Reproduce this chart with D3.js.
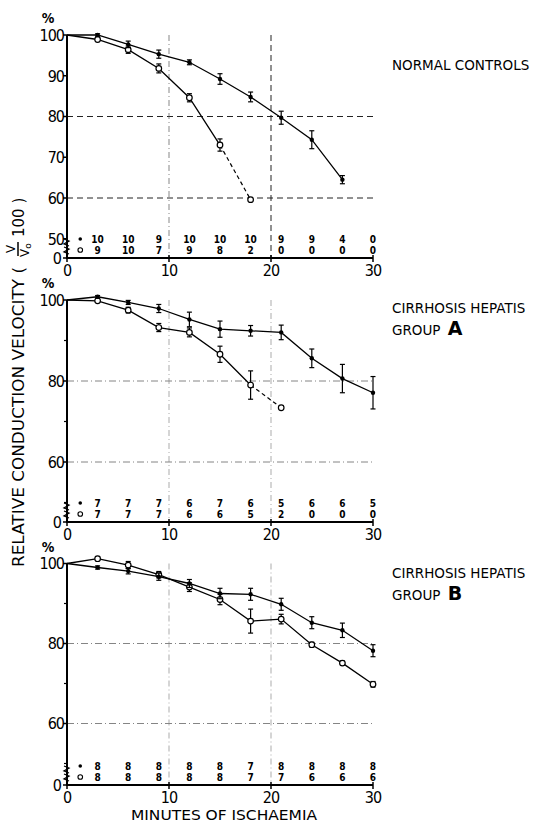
<!DOCTYPE html>
<html><head><meta charset="utf-8">
<script src="https://cdn.jsdelivr.net/npm/d3@7"></script>
<style>
body{margin:0;background:#fff;}
svg{display:block;font-family:"DejaVu Sans Condensed","DejaVu Sans",sans-serif;}
</style></head>
<body><svg id="c" width="544" height="824"></svg>
<script>
// ---------- data ----------
const minutes = [0,3,6,9,12,15,18,21,24,27,30];
const countMinutes = [3,6,9,12,15,18,21,24,27,30];
const xTicks = [0,10,20,30];
const xTickLabels = ["0","10","20","30"];

const normalFilled    = [100,100,97.7,95.3,93.3,89.2,84.8,79.7,74.3,64.5];
const normalFilledErr = [0,0.3,0.8,1.0,0.6,1.3,1.2,1.6,2.2,1.0];
const normalOpen      = [100,98.9,96.4,91.8,84.6,73.0,59.6];
const normalOpenErr   = [0,0.5,0.9,1.1,1.0,1.5,0];
const normalNFilled   = [10,10,9,10,10,10,9,9,4,0];
const normalNOpen     = [9,10,7,9,8,2,0,0,0,0];

const groupAFilled    = [100,100.8,99.4,97.9,95.2,92.8,92.4,92.0,85.6,80.6,77.1];
const groupAFilledErr = [0,0.3,0.5,1.0,1.8,2.0,1.3,1.8,2.3,3.5,4.0];
const groupAOpen      = [100,99.8,97.5,93.2,92.0,86.6,79.0,73.4];
const groupAOpenErr   = [0,0.4,0.7,1.0,1.1,2.0,3.5,0];
const groupANFilled   = [7,7,7,6,7,6,5,6,6,5];
const groupANOpen     = [7,7,7,6,6,5,2,0,0,0];

const groupBFilled    = [100,99.0,98.1,96.7,95.0,92.5,92.3,89.8,85.2,83.3,78.2];
const groupBFilledErr = [0,0.4,0.7,0.9,1.0,1.3,1.5,1.5,1.5,1.8,1.5];
const groupBOpen      = [100,101.2,99.6,97.2,94.1,91.0,85.6,86.1,79.7,75.1,69.8];
const groupBOpenErr   = [0,0.5,0.9,0.8,1.1,1.3,3.0,1.2,0.6,0.5,0.7];
const groupBNFilled   = [8,8,8,8,8,7,8,8,8,8];
const groupBNOpen     = [8,8,8,8,8,7,7,6,6,6];

const panels = [
  {filled:normalFilled, filledErr:normalFilledErr, open:normalOpen, openErr:normalOpenErr,
   nF:normalNFilled, nO:normalNOpen, openDashFrom:5,
   yLabels:[100,90,80,70,60,50], minor:[], title:["NORMAL CONTROLS"], letter:null,
   y100:35, y60:198, axisY:258, gridStyle:"dash"},
  {filled:groupAFilled, filledErr:groupAFilledErr, open:groupAOpen, openErr:groupAOpenErr,
   nF:groupANFilled, nO:groupANOpen, openDashFrom:6,
   yLabels:[100,80,60], minor:[90,70,50], title:["CIRRHOSIS HEPATIS","GROUP"], letter:"A",
   y100:300, y60:462, axisY:522, gridStyle:"dashdot"},
  {filled:groupBFilled, filledErr:groupBFilledErr, open:groupBOpen, openErr:groupBOpenErr,
   nF:groupBNFilled, nO:groupBNOpen, openDashFrom:null,
   yLabels:[100,80,60], minor:[90,70,50], title:["CIRRHOSIS HEPATIS","GROUP"], letter:"B",
   y100:563.5, y60:723.5, axisY:785, gridStyle:"dashdot"}
];

// ---------- drawing ----------
const svg = d3.select("#c");
const x = d3.scaleLinear().domain([0,30]).range([67,373]);

panels.forEach((p, pi) => {
  const y = d3.scaleLinear().domain([60,100]).range([p.y60, p.y100]);
  const g = svg.append("g");
  const x0 = x(0), x30 = x(30);

  // grid
  const hDash = p.gridStyle === "dash" ? "6,4" : "7,3,1,3";
  const hCol = p.gridStyle === "dash" ? "#222" : "#666";
  [80,60].forEach(v => {
    g.append("line").attr("x1",x0).attr("x2",x30).attr("y1",y(v)).attr("y2",y(v))
      .attr("stroke",hCol).attr("stroke-width",p.gridStyle==="dash"?1:0.8).attr("stroke-dasharray",hDash);
  });
  [10,20].forEach((v,i) => {
    const dashed = p.gridStyle==="dash" && i===1;
    g.append("line").attr("x1",x(v)).attr("x2",x(v)).attr("y1",y(100)).attr("y2",p.axisY)
      .attr("stroke",dashed?"#222":(p.gridStyle==="dash"?"#555":"#888")).attr("stroke-width",dashed?1:0.7)
      .attr("stroke-dasharray",dashed?"6,4":"6,3,1,3");
  });

  // axes
  g.append("line").attr("x1",x0).attr("x2",x0).attr("y1",p.axisY).attr("y2",y(100))
    .attr("stroke","#000").attr("stroke-width",2);
  g.append("line").attr("x1",x0-1).attr("x2",x30).attr("y1",p.axisY).attr("y2",p.axisY)
    .attr("stroke","#000").attr("stroke-width",2.2);

  // y ticks + labels
  p.yLabels.forEach(v => {
    g.append("line").attr("x1",x0-4).attr("x2",x0).attr("y1",y(v)).attr("y2",y(v)).attr("stroke","#000").attr("stroke-width",1.5);
    g.append("text").attr("x",x0-3).attr("y",y(v)).attr("dy","0.36em").attr("text-anchor","end")
      .attr("font-size",16).attr("letter-spacing",-1).text(v);
  });
  p.minor.forEach(v => {
    g.append("line").attr("x1",x0-3).attr("x2",x0+1).attr("y1",y(v)).attr("y2",y(v)).attr("stroke","#000").attr("stroke-width",1.2);
  });
  g.append("line").attr("x1",x0-4).attr("x2",x0).attr("y1",p.axisY).attr("y2",p.axisY).attr("stroke","#000").attr("stroke-width",1.5);
  g.append("text").attr("x",x0-5).attr("y",p.axisY).attr("dy","0.36em").attr("text-anchor","end")
    .attr("font-size",16).text("0");
  g.append("text").attr("x",x0-19).attr("y",y(100)-12).attr("text-anchor","middle")
    .attr("font-size",14).attr("font-weight","bold").text("%");

  // axis break marks
  [p.axisY-15, p.axisY-7].forEach(by => {
    g.append("path").attr("d",`M${x0-3},${by-4} L${x0+2},${by-2} L${x0-3},${by+1} L${x0+2},${by+3}`)
      .attr("fill","none").attr("stroke","#000").attr("stroke-width",1.3);
  });

  // x ticks + labels
  xTicks.forEach((v,i) => {
    g.append("line").attr("x1",x(v)).attr("x2",x(v)).attr("y1",p.axisY-3).attr("y2",p.axisY+4)
      .attr("stroke","#000").attr("stroke-width",1.5);
    g.append("text").attr("x",x(v)).attr("y",p.axisY+12).attr("dy","0.36em").attr("text-anchor","middle")
      .attr("font-size",16).attr("letter-spacing",-1).text(xTickLabels[i]);
  });

  // counts
  const rowF = p.axisY - 19, rowO = p.axisY - 8;
  g.append("circle").attr("cx",x(1.3)).attr("cy",rowF).attr("r",1.8).attr("fill","#000");
  g.append("circle").attr("cx",x(1.3)).attr("cy",rowO).attr("r",2.3).attr("fill","#fff").attr("stroke","#000").attr("stroke-width",1.1);
  countMinutes.forEach((m,i) => {
    g.append("text").attr("x",x(m)).attr("y",rowF).attr("dy","0.36em").attr("text-anchor","middle")
      .attr("font-size",10).attr("font-weight","bold").text(p.nF[i]);
    g.append("text").attr("x",x(m)).attr("y",rowO).attr("dy","0.36em").attr("text-anchor","middle")
      .attr("font-size",10).attr("font-weight","bold").text(p.nO[i]);
  });

  // series
  function series(vals, errs, open, dashFrom) {
    const pts = vals.map((v,i) => ({m:minutes[i], v, e:errs[i]}));
    const solidPts = dashFrom == null ? pts : pts.slice(0, dashFrom+1);
    const line = d3.line().x(d => x(d.m)).y(d => y(d.v));
    g.append("path").attr("d",line(solidPts)).attr("fill","none").attr("stroke","#000").attr("stroke-width",1.3);
    if (dashFrom != null) {
      g.append("path").attr("d",line(pts.slice(dashFrom))).attr("fill","none").attr("stroke","#000")
        .attr("stroke-width",1.2).attr("stroke-dasharray","4,3");
    }
    pts.forEach(d => {
      if (d.e > 0) {
        const t = y(d.v + d.e), b = y(d.v - d.e), cx = x(d.m);
        g.append("line").attr("x1",cx).attr("x2",cx).attr("y1",t).attr("y2",b).attr("stroke","#000").attr("stroke-width",1.2);
        [t,b].forEach(yy => g.append("line").attr("x1",cx-2.5).attr("x2",cx+2.5).attr("y1",yy).attr("y2",yy)
          .attr("stroke","#000").attr("stroke-width",1.2));
      }
    });
    pts.slice(1).forEach(d => {
      if (open) g.append("circle").attr("cx",x(d.m)).attr("cy",y(d.v)).attr("r",2.8)
        .attr("fill","#fff").attr("stroke","#000").attr("stroke-width",1.2);
      else g.append("circle").attr("cx",x(d.m)).attr("cy",y(d.v)).attr("r",2.2).attr("fill","#000");
    });
  }
  series(p.open, p.openErr, true, p.openDashFrom);
  series(p.filled, p.filledErr, false, null);

  // title
  const ty = pi===0 ? 70 : (pi===1 ? 313 : 578);
  g.append("text").attr("x",392).attr("y",ty).attr("font-size",13.5).attr("font-family","DejaVu Sans").text(p.title[0]);
  if (p.title.length > 1) {
    const t2 = g.append("text").attr("x",392).attr("y",ty+22).attr("font-size",13.5).attr("font-family","DejaVu Sans");
    t2.append("tspan").text(p.title[1] + " ");
    t2.append("tspan").attr("font-size",19).attr("font-weight","bold").attr("dx",3).text(p.letter);
  }
});

// y axis title (rotated)
const yt = svg.append("g").attr("transform","translate(24,567) rotate(-90)");
yt.append("text").attr("x",0).attr("y",0).attr("font-size",15).attr("font-family","DejaVu Sans")
  .attr("textLength",300).attr("lengthAdjust","spacingAndGlyphs").text("RELATIVE CONDUCTION VELOCITY (");
yt.append("text").attr("x",318).attr("y",-9).attr("text-anchor","middle").attr("font-size",12).attr("font-family","DejaVu Sans").text("V");
yt.append("line").attr("x1",311).attr("x2",325).attr("y1",-6).attr("y2",-6).attr("stroke","#000").attr("stroke-width",1.5);
yt.append("text").attr("x",317).attr("y",5).attr("text-anchor","middle").attr("font-size",12).attr("font-family","DejaVu Sans")
  .text("V").append("tspan").attr("font-size",9).attr("dy",2).text("o");
yt.append("text").attr("x",330).attr("y",0).attr("font-size",15).attr("font-family","DejaVu Sans").text("100 )");

// x axis title
svg.append("text").attr("x",224).attr("y",820).attr("text-anchor","middle").attr("font-size",14)
  .attr("font-family","DejaVu Sans").attr("textLength",186).attr("lengthAdjust","spacingAndGlyphs").text("MINUTES OF ISCHAEMIA");
</script></body></html>
